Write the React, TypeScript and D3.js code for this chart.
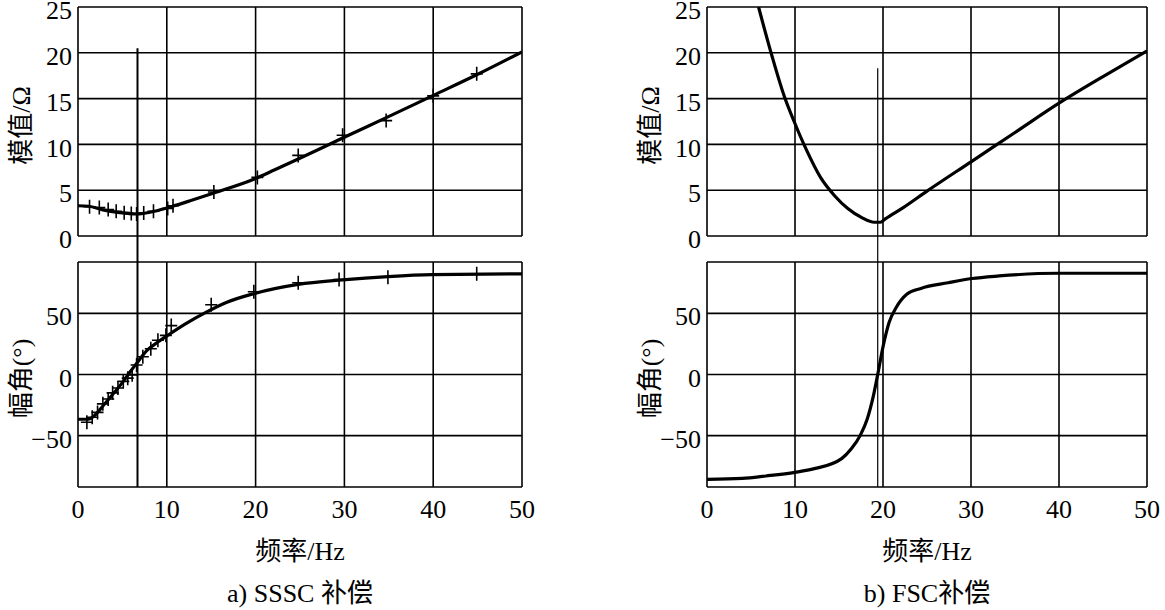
import React from "react";
import * as d3 from "d3";

// ---- data ----
const xTicks = [0, 10, 20, 30, 40, 50];
const magTicks = [0, 5, 10, 15, 20, 25];
const angTicks = [-50, 0, 50];

// SSSC: fitted curve (frequency Hz, magnitude Ω)
const ssscMagFreq = [0, 1.2, 2.8, 4.7, 6.6, 8.6, 10.5, 12.8, 15.3, 19.8, 22.1, 24.8, 29.8, 34.9, 39.9, 44.9, 50];
const ssscMagVal = [3.3, 3.25, 2.85, 2.55, 2.4, 2.7, 3.2, 3.9, 4.7, 6.2, 7.2, 8.4, 10.7, 13.0, 15.3, 17.6, 20.1];
// SSSC: measured points (+)
const ssscMagPtFreq = [1.3, 2.4, 3.4, 4.3, 5.2, 6.0, 6.6, 7.4, 8.5, 10.1, 10.7, 15.3, 20.2, 24.8, 29.8, 34.7, 40.0, 44.9];
const ssscMagPtVal = [3.2, 3.1, 2.9, 2.7, 2.55, 2.45, 2.4, 2.5, 2.7, 3.0, 3.3, 4.8, 6.4, 8.8, 11.0, 12.6, 15.3, 17.7];

const ssscAngFreq = [0, 1.2, 1.8, 2.8, 3.9, 5.1, 5.9, 6.6, 7.8, 9.0, 10.1, 12.1, 14.4, 16.7, 19.8, 24.8, 29.8, 34.9, 39.9, 50];
const ssscAngVal = [-36.6, -36.6, -34, -25.8, -16.4, -5.6, 2.4, 9.1, 19.9, 26.6, 32, 41.4, 50.8, 58.9, 66.1, 73.7, 77.4, 80.1, 81.7, 82.3];
const ssscAngPtFreq = [1.0, 1.6, 2.2, 2.8, 3.4, 3.9, 4.5, 5.1, 5.6, 6.1, 6.6, 7.3, 8.2, 9.0, 9.9, 10.5, 15.0, 19.8, 24.8, 29.4, 34.9, 44.9];
const ssscAngPtVal = [-39, -35, -31, -24, -20, -15, -11, -5.6, -3, -0.3, 7.8, 14.5, 21, 28, 32, 40, 57, 67.7, 75, 77.7, 79.6, 82.3];

// FSC curves
const fscMagFreq = [5.86, 7.4, 8.8, 9.9, 11.3, 12.9, 14.5, 16.0, 17.6, 19.0, 19.7, 20.3, 22.3, 25, 30, 35, 40, 45, 50];
const fscMagVal = [25, 19.6, 15.2, 12.5, 9.4, 6.4, 4.4, 3.0, 2.0, 1.5, 1.5, 1.9, 3.1, 4.9, 8.1, 11.3, 14.5, 17.4, 20.2];
const fscAngFreq = [0, 4, 6.7, 10, 12.2, 15.3, 16.4, 17.4, 18.2, 18.9, 19.4, 20.0, 20.7, 21.5, 22.7, 24.3, 27.4, 30.1, 33.2, 39.9, 50];
const fscAngVal = [-85.8, -85, -83, -80, -77, -68.8, -60.8, -50, -36.6, -17.7, 0, 22.6, 42.7, 54.8, 65.6, 70.4, 75, 78.5, 80.6, 82.8, 82.8];

// marker (resonance) frequencies and their tops (in magnitude units)
const ssscMarker = { f: 6.7, top: 20.5 };
const fscMarker = { f: 19.4, top: 18.3 };

const yLabelMag = "模值/Ω";
const yLabelAng = "幅角(°)";
const xLabel = "频率/Hz";
const titleA = "a) SSSC 补偿";
const titleB = "b) FSC补偿";

// ---- layout ----
const W = 1165, H = 610;
const topY: [number, number] = [236, 7];
const botY: [number, number] = [487, 262];
const serif = "'Liberation Serif', 'Times New Roman', serif";
const mixed = "'Liberation Serif', 'Noto Sans CJK SC', serif";

type Panel = {
  x0: number; x1: number;
  magF: number[]; magV: number[]; magPF?: number[]; magPV?: number[];
  angF: number[]; angV: number[]; angPF?: number[]; angPV?: number[];
  marker: { f: number; top: number };
  markerW: number;
  title: string;
  id: string;
};

const panels: Panel[] = [
  { x0: 78, x1: 522, magF: ssscMagFreq, magV: ssscMagVal, magPF: ssscMagPtFreq, magPV: ssscMagPtVal,
    angF: ssscAngFreq, angV: ssscAngVal, angPF: ssscAngPtFreq, angPV: ssscAngPtVal,
    marker: ssscMarker, markerW: 2, title: titleA, id: "a" },
  { x0: 707, x1: 1147, magF: fscMagFreq, magV: fscMagVal,
    angF: fscAngFreq, angV: fscAngVal,
    marker: fscMarker, markerW: 1.2, title: titleB, id: "b" },
];

function PanelView({ p }: { p: Panel }) {
  const x = d3.scaleLinear().domain([0, 50]).range([p.x0, p.x1]);
  const ym = d3.scaleLinear().domain([0, 25]).range(topY);
  const ya = d3.scaleLinear().domain([-92, 92]).range(botY);
  const magLine = d3.line<number>().x((_, i) => x(p.magF[i])).y((v) => ym(v)).curve(d3.curveMonotoneX);
  const angLine = d3.line<number>().x((_, i) => x(p.angF[i])).y((v) => ya(v)).curve(d3.curveMonotoneX);
  const cross = "M-6,0H6M0,-7V7";
  const cx = (p.x0 + p.x1) / 2;
  const grid = "#000";
  return (
    <g>
      <defs>
        <clipPath id={"clipm" + p.id}>
          <rect x={p.x0} y={topY[1]} width={p.x1 - p.x0} height={topY[0] - topY[1]} />
        </clipPath>
        <clipPath id={"clipa" + p.id}>
          <rect x={p.x0} y={botY[1]} width={p.x1 - p.x0} height={botY[0] - botY[1]} />
        </clipPath>
      </defs>
      {/* top panel grid */}
      {xTicks.map((t) => (
        <line key={"tv" + t} x1={x(t)} x2={x(t)} y1={ym(0)} y2={ym(25)} stroke={grid} strokeWidth={1.6} />
      ))}
      {magTicks.map((t) => (
        <line key={"th" + t} x1={p.x0} x2={p.x1} y1={ym(t)} y2={ym(t)} stroke={grid} strokeWidth={1.6} />
      ))}
      {magTicks.map((t) => (
        <text key={"tl" + t} x={p.x0 - 6} y={ym(t) + 3} dy="0.35em" textAnchor="end" fontFamily={serif} fontSize={26}>{t}</text>
      ))}
      {/* bottom panel grid */}
      {xTicks.map((t) => (
        <line key={"bv" + t} x1={x(t)} x2={x(t)} y1={botY[0]} y2={botY[1]} stroke={grid} strokeWidth={1.6} />
      ))}
      <line x1={p.x0} x2={p.x1} y1={botY[1]} y2={botY[1]} stroke={grid} strokeWidth={1.6} />
      <line x1={p.x0} x2={p.x1} y1={botY[0]} y2={botY[0]} stroke={grid} strokeWidth={1.6} />
      {angTicks.map((t) => (
        <line key={"bh" + t} x1={p.x0} x2={p.x1} y1={ya(t)} y2={ya(t)} stroke={grid} strokeWidth={1.6} />
      ))}
      {angTicks.map((t) => (
        <text key={"bl" + t} x={p.x0 - 6} y={ya(t) + 3} dy="0.35em" textAnchor="end" fontFamily={serif} fontSize={26}>{t < 0 ? "\u2212" + Math.abs(t) : t}</text>
      ))}
      {xTicks.map((t) => (
        <text key={"xl" + t} x={x(t)} y={518} textAnchor="middle" fontFamily={serif} fontSize={26}>{t}</text>
      ))}
      {/* marker line */}
      <line x1={x(p.marker.f)} x2={x(p.marker.f)} y1={ym(p.marker.top)} y2={botY[0]} stroke="#000" strokeWidth={p.markerW} />
      {/* curves */}
      <path d={magLine(p.magV) || ""} fill="none" stroke="#000" strokeWidth={3.2} clipPath={`url(#clipm${p.id})`} />
      <path d={angLine(p.angV) || ""} fill="none" stroke="#000" strokeWidth={3.2} clipPath={`url(#clipa${p.id})`} />
      {p.magPF && p.magPV && p.magPF.map((f, i) => (
        <path key={"mp" + i} d={cross} transform={`translate(${x(f)},${ym(p.magPV![i])})`} stroke="#000" strokeWidth={1.6} fill="none" />
      ))}
      {p.angPF && p.angPV && p.angPF.map((f, i) => (
        <path key={"ap" + i} d={cross} transform={`translate(${x(f)},${ya(p.angPV![i])})`} stroke="#000" strokeWidth={1.6} fill="none" />
      ))}
      {/* axis labels */}
      <text transform={`translate(${p.x0 - 48},${(topY[0] + topY[1]) / 2 + 4}) rotate(-90)`} textAnchor="middle" fontFamily={mixed} fontSize={26}>{yLabelMag}</text>
      <text transform={`translate(${p.x0 - 48},${(botY[0] + botY[1]) / 2 + 4}) rotate(-90)`} textAnchor="middle" fontFamily={mixed} fontSize={26}>{yLabelAng}</text>
      <text x={cx} y={560} textAnchor="middle" fontFamily={mixed} fontSize={26}>{xLabel}</text>
      <text x={cx} y={602} textAnchor="middle" fontFamily={mixed} fontSize={26}>{p.title}</text>
    </g>
  );
}

export default function App() {
  return (
    <svg width={W} height={H} style={{ position: "absolute", left: 0, top: 0, background: "#fff" }}>
      <rect width={W} height={H} fill="#fff" />
      {panels.map((p) => (
        <PanelView key={p.id} p={p} />
      ))}
    </svg>
  );
}
